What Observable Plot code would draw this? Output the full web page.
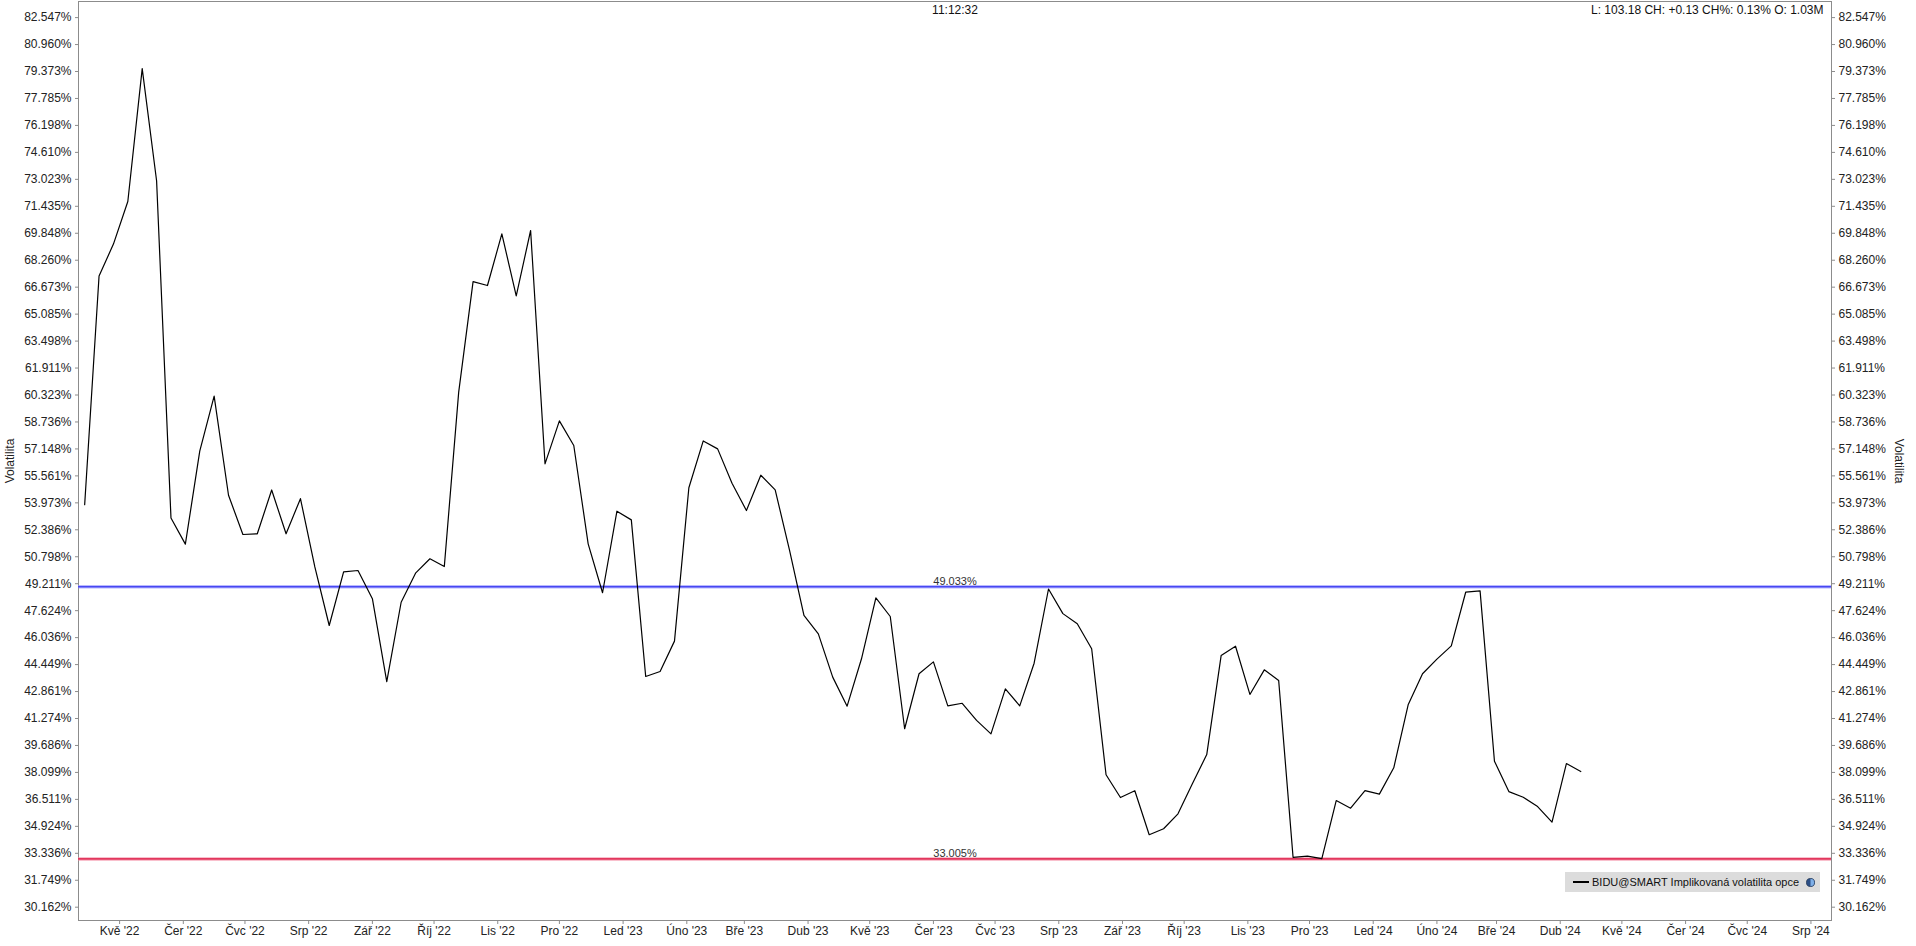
<!DOCTYPE html>
<html>
<head>
<meta charset="utf-8">
<script src="https://cdn.jsdelivr.net/npm/d3@7"></script>
<script src="https://cdn.jsdelivr.net/npm/@observablehq/plot@0.6"></script>
<style>
  body { margin: 0; background: #fff; font-family: "Liberation Sans", Arial, sans-serif; }
  #wrap { position: relative; width: 1916px; height: 946px; overflow: hidden; }
  #legend { position: absolute; left: 1565px; top: 872px; width: 255px; height: 20px; background: #dcdcdc;
            font-size: 11px; color: #111; display: flex; align-items: center; box-sizing: border-box; padding-left: 8px; }
  #legend .swatch { width: 16px; height: 2px; background: #000; margin-right: 3px; }
  #legend .icon { margin-left: 7px; width: 9px; height: 9px; }
</style>
</head>
<body>
<div id="wrap"></div>
<script>
// ---- data ----
const startDate = "2022-04-14";          // first weekly observation
const volatility = [
  53.86, 67.33, 69.21, 71.72, 79.54, 72.94, 53.08, 51.54, 57.02, 60.26,
  54.42, 52.11, 52.15, 54.73, 52.15, 54.22, 50.2, 46.75, 49.91, 49.99,
  48.33, 43.45, 48.12, 49.83, 50.68, 50.22, 60.49, 67.0, 66.77, 69.81,
  66.16, 70.01, 56.27, 58.8, 57.35, 51.56, 48.68, 53.48, 52.97, 43.75,
  44.04, 45.83, 54.86, 57.62, 57.15, 55.13, 53.52, 55.6, 54.74, 51.17,
  47.34, 46.26, 43.71, 42.0, 44.79, 48.38, 47.28, 40.67, 43.91, 44.61,
  42.02, 42.17, 41.16, 40.37, 43.02, 42.02, 44.53, 48.9, 47.45, 46.85,
  45.38, 37.96, 36.62, 37.02, 34.43, 34.78, 35.66, 37.43, 39.15, 44.98,
  45.53, 42.69, 44.14, 43.51, 33.1, 33.17, 33.02, 36.44, 35.99, 37.03,
  36.82, 38.37, 42.08, 43.91, 44.77, 45.55, 48.71, 48.79, 38.76, 36.97,
  36.64, 36.09, 35.17, 38.62, 38.15
];
const yTicks = [
  30.162, 31.749, 33.336, 34.924, 36.511, 38.099, 39.686, 41.274, 42.861, 44.449,
  46.036, 47.624, 49.211, 50.798, 52.386, 53.973, 55.561, 57.148, 58.736, 60.323,
  61.911, 63.498, 65.085, 66.673, 68.260, 69.848, 71.435, 73.023, 74.610, 76.198,
  77.785, 79.373, 80.960, 82.547
];
const monthNames = ["Led", "Úno", "Bře", "Dub", "Kvě", "Čer", "Čvc", "Srp", "Zář", "Říj", "Lis", "Pro"];
const monthTickRange = ["2022-05-01", "2024-08-02"];
const xDomain = ["2022-04-11", "2024-08-11"];
const yDomain = [29.379, 83.495];
const high52 = 49.033;
const low52 = 33.005;
const headerTime = "11:12:32";
const headerStats = "L: 103.18 CH: +0.13 CH%: 0.13% O: 1.03M";
const axisLabel = "Volatilita";
const seriesName = "BIDU@SMART Implikovaná volatilita opce";

// ---- build table ----
const t0 = new Date(startDate);
const data = volatility.map((v, i) => ({ date: d3.utcDay.offset(t0, 7 * i), value: v }));
const monthTicks = d3.utcMonth.range(new Date(monthTickRange[0]), new Date(monthTickRange[1]));
const fmtMonth = d => `${monthNames[d.getUTCMonth()]} '${String(d.getUTCFullYear()).slice(2)}`;
const fmtPct = d => d.toFixed(3) + "%";

const font = '"Liberation Sans", Arial, sans-serif';

const chart = Plot.plot({
  width: 1916,
  height: 946,
  marginTop: 1,
  marginLeft: 78,
  marginRight: 85,
  marginBottom: 26,
  style: { fontFamily: font, fontSize: "12px", background: "#fff", color: "#222", overflow: "visible" },
  x: { type: "utc", domain: xDomain.map(d => new Date(d)) },
  y: { domain: yDomain },
  marks: [
    Plot.frame({ stroke: "#8c8c8c" }),
    Plot.axisY({ anchor: "left", ticks: yTicks, tickFormat: fmtPct, tickSize: 3, tickPadding: 4, label: null, stroke: "#8c8c8c", fill: "#222" }),
    Plot.axisY({ anchor: "right", ticks: yTicks, tickFormat: fmtPct, tickSize: 3, tickPadding: 4, label: null, stroke: "#8c8c8c", fill: "#222" }),
    Plot.axisX({ ticks: monthTicks, tickFormat: fmtMonth, tickSize: 4, tickPadding: 2, label: null, stroke: "#8c8c8c", fill: "#222" }),
    Plot.text([axisLabel], { text: d => d, frameAnchor: "left", textAnchor: "middle", lineAnchor: "middle", rotate: -90, dx: -68, fontSize: 12, fill: "#222" }),
    Plot.text([axisLabel], { text: d => d, frameAnchor: "right", textAnchor: "middle", lineAnchor: "middle", rotate: 90, dx: 67, fontSize: 12, fill: "#222" }),
    Plot.text([headerTime], { text: d => d, frameAnchor: "top", lineAnchor: "middle", dy: 9, fontSize: 12, fill: "#111" }),
    Plot.text([headerStats], { text: d => d, frameAnchor: "top-right", textAnchor: "end", lineAnchor: "middle", dx: -8, dy: 9, fontSize: 12, fill: "#111" }),
    // 52-week high / low rules
    Plot.ruleY([high52], { stroke: "#8a8aff", strokeWidth: 3.5, strokeOpacity: 0.6 }),
    Plot.ruleY([high52], { stroke: "#4848f2", strokeWidth: 1.6 }),
    Plot.ruleY([low52], { stroke: "#f4889f", strokeWidth: 3.5, strokeOpacity: 0.7 }),
    Plot.ruleY([low52], { stroke: "#e2375e", strokeWidth: 1.6 }),
    Plot.text([high52], { y: d => d, text: fmtPct, frameAnchor: "middle", lineAnchor: "bottom", dy: -2, fontSize: 11, fill: "#333" }),
    Plot.text([low52], { y: d => d, text: fmtPct, frameAnchor: "middle", lineAnchor: "bottom", dy: -2, fontSize: 11, fill: "#333" }),
    // series
    Plot.line(data, { x: "date", y: "value", stroke: "#000", strokeWidth: 1.2 })
  ]
});

const wrap = document.getElementById("wrap");
wrap.appendChild(chart);

const legend = document.createElement("div");
legend.id = "legend";
legend.innerHTML = `<div class="swatch"></div><span></span>
  <svg class="icon" viewBox="0 0 10 10"><circle cx="5" cy="5" r="4.5" fill="#2c4f86"/><path d="M5 0.5 A4.5 4.5 0 0 1 5 9.5 Z" fill="#7fb0e8"/><circle cx="5" cy="5" r="4.5" fill="none" stroke="#1c2f50" stroke-width="0.8"/></svg>`;
legend.querySelector("span").textContent = seriesName;
wrap.appendChild(legend);
</script>
</body>
</html>
